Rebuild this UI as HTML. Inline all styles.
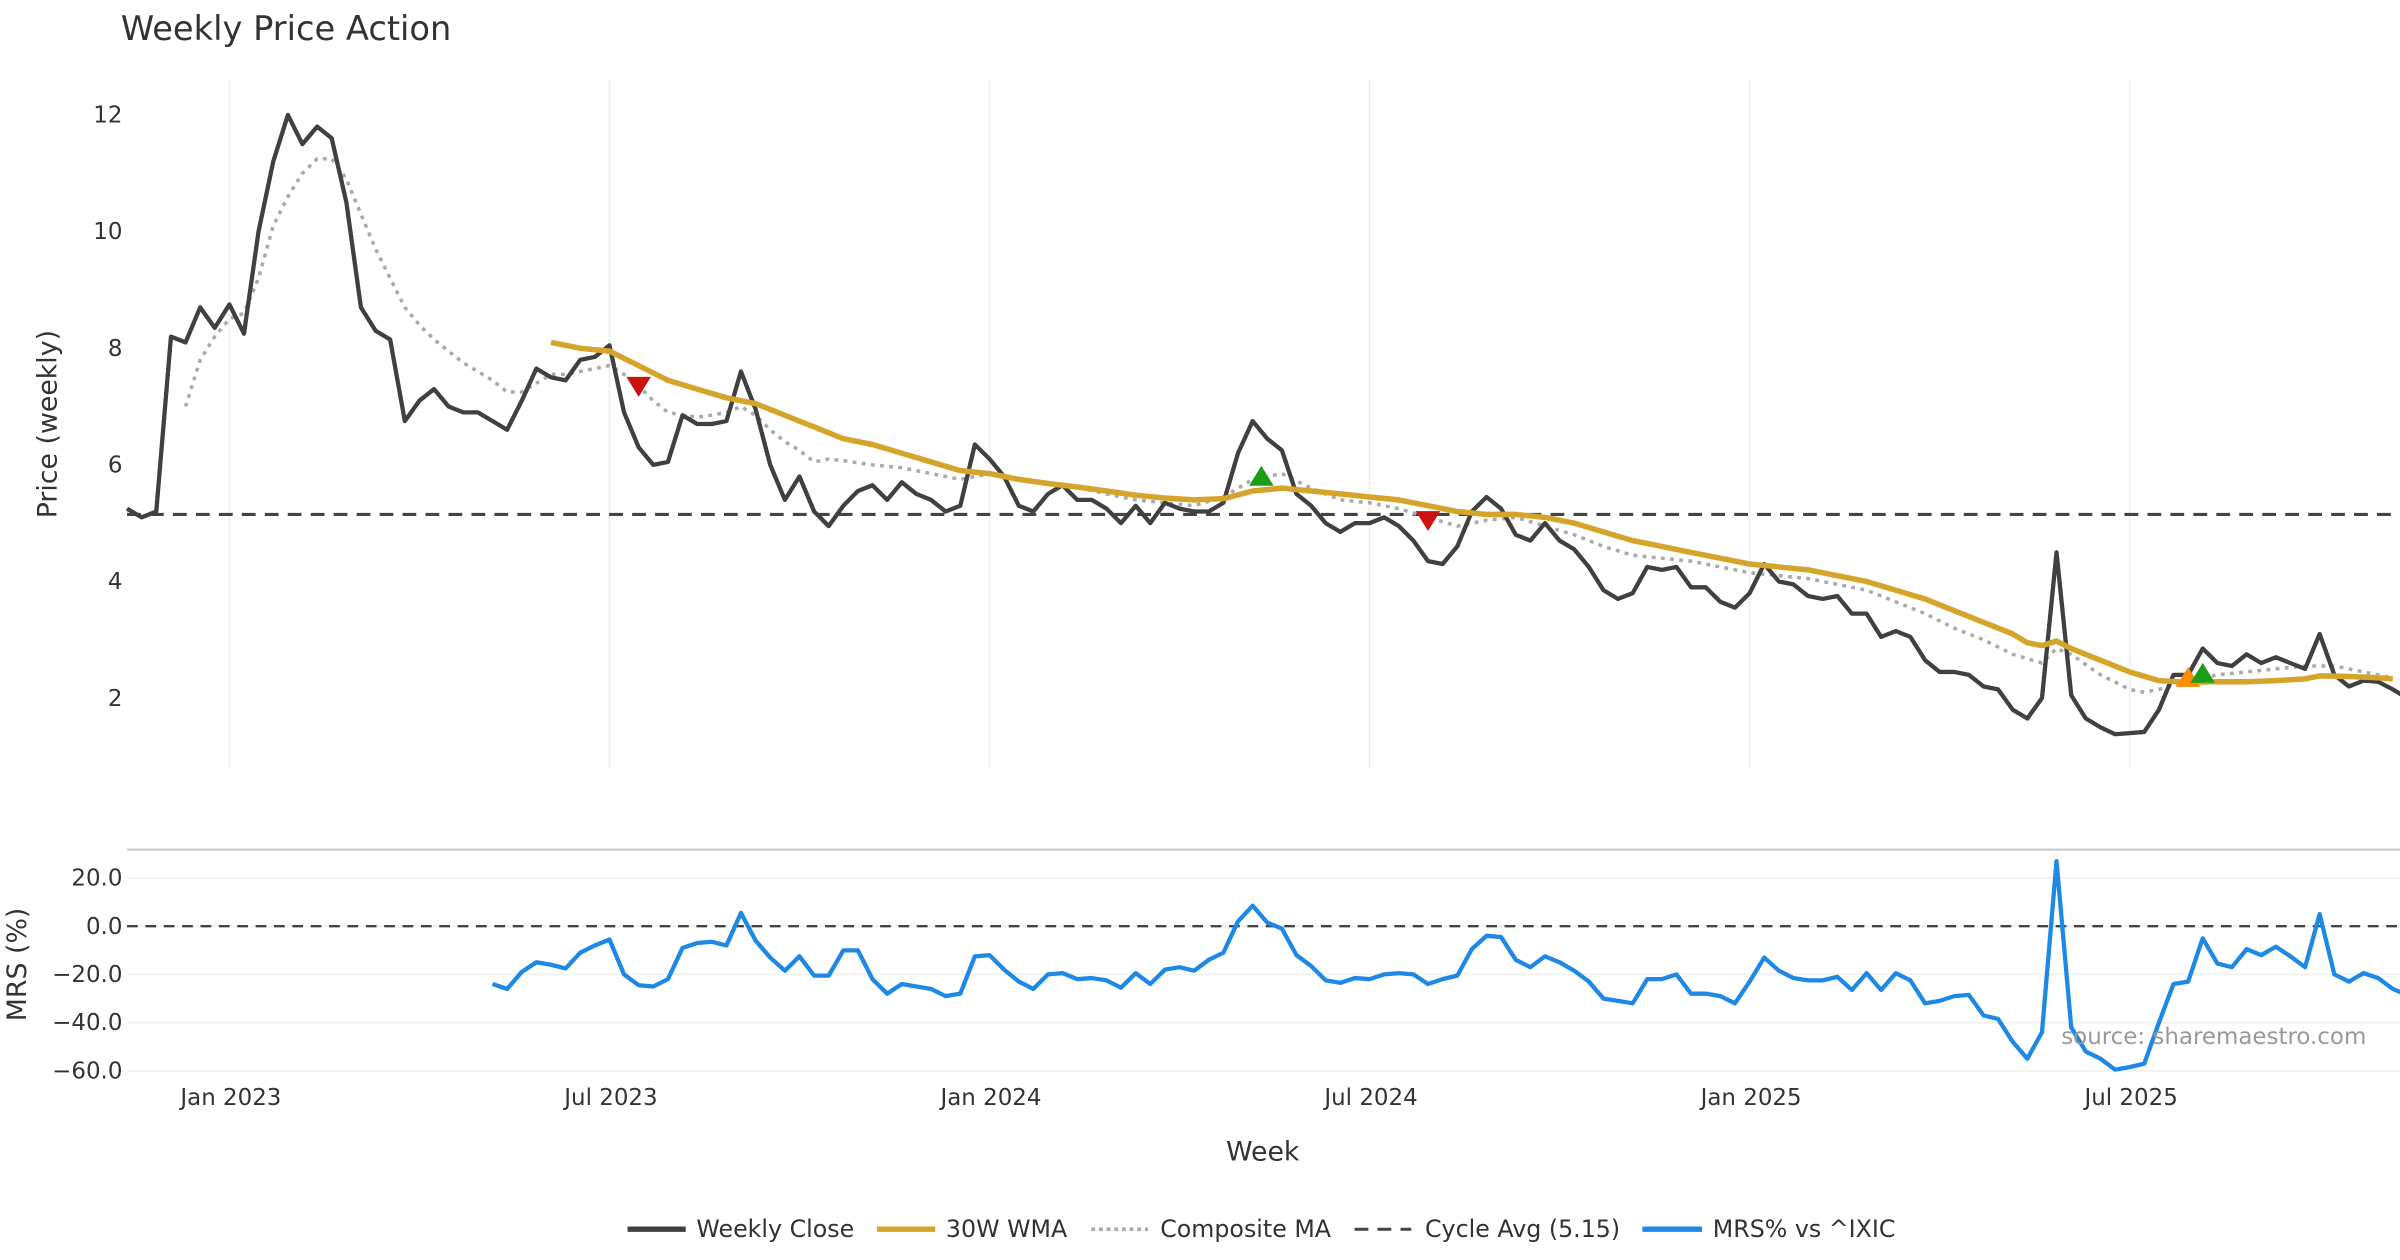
<!DOCTYPE html>
<html><head><meta charset="utf-8"><style>
html,body{margin:0;padding:0;background:#fff;}
svg{display:block;font-family:"DejaVu Sans","Liberation Sans",sans-serif;}
</style></head><body>
<svg id="chart" width="2400" height="1260" viewBox="0 0 1568 823" xmlns="http://www.w3.org/2000/svg">
<text x="79" y="26" font-size="22" fill="#333">Weekly Price Action</text>
<g id="grid"></g>
<g id="price"></g>
<g id="mrs"></g>
<text transform="translate(37,277) rotate(-90)" text-anchor="middle" font-size="17.5" fill="#333">Price (weekly)</text>
<text transform="translate(17,630) rotate(-90)" text-anchor="middle" font-size="17.5" fill="#333">MRS (%)</text>
<text x="825" y="758" text-anchor="middle" font-size="17.5" fill="#333">Week</text>
<text x="1546" y="682" text-anchor="end" font-size="15" fill="#999">source: sharemaestro.com</text>
<g font-size="15.5" fill="#333">
 <g><line x1="410" y1="803" x2="448" y2="803" stroke="#404040" stroke-width="3.5"/><text x="455" y="808">Weekly Close</text></g>
 <g><line x1="573" y1="803" x2="611" y2="803" stroke="#d4a52a" stroke-width="3.5"/><text x="618" y="808">30W WMA</text></g>
 <g><line x1="713" y1="803" x2="750" y2="803" stroke="#aaa" stroke-width="2.5" stroke-dasharray="2.5,2.5"/><text x="758" y="808">Composite MA</text></g>
 <g><line x1="885" y1="803" x2="922" y2="803" stroke="#444" stroke-width="2" stroke-dasharray="9,6"/><text x="931" y="808">Cycle Avg (5.15)</text></g>
 <g><line x1="1073" y1="803" x2="1112" y2="803" stroke="#1e88e5" stroke-width="3.5"/><text x="1119" y="808">MRS% vs ^IXIC</text></g>
</g>
</svg>
<script>
const closeValues=[5.25,5.1,5.2,8.2,8.1,8.7,8.35,8.75,8.25,10.0,11.2,12.0,11.5,11.8,11.6,10.5,8.7,8.3,8.15,6.75,7.1,7.3,7.0,6.9,6.9,6.75,6.6,7.1,7.65,7.5,7.45,7.8,7.85,8.05,6.9,6.3,6.0,6.05,6.85,6.7,6.7,6.75,7.6,6.95,6.0,5.4,5.8,5.2,4.95,5.3,5.55,5.65,5.4,5.7,5.5,5.4,5.2,5.3,6.35,6.1,5.8,5.3,5.2,5.5,5.65,5.4,5.4,5.25,5.0,5.3,5.0,5.35,5.25,5.2,5.2,5.35,6.2,6.75,6.45,6.25,5.5,5.3,5.0,4.85,5.0,5.0,5.1,4.95,4.7,4.35,4.3,4.6,5.2,5.45,5.25,4.8,4.7,5.0,4.7,4.55,4.25,3.85,3.7,3.8,4.25,4.2,4.25,3.9,3.9,3.65,3.55,3.8,4.3,4.0,3.95,3.75,3.7,3.75,3.45,3.45,3.05,3.15,3.05,2.65,2.45,2.45,2.4,2.2,2.15,1.8,1.65,2.0,4.5,2.05,1.65,1.5,1.38,1.4,1.42,1.8,2.4,2.4,2.85,2.6,2.55,2.75,2.6,2.7,2.6,2.5,3.1,2.4,2.2,2.3,2.28,2.15,2.0];
const wmaWeeks=[29,31,33,35,37,39,41,43,45,47,49,51,53,55,57,59,61,63,65,67,69,71,73,75,77,79,81,83,85,87,89,91,93,95,97,99,101,103,105,107,109,111,113,115,117,119,121,123,125,127,129,130,131,132,133,135,137,139,141,143,145,147,149,150,152,154,155];
const wmaValues=[8.1,8.0,7.95,7.7,7.45,7.3,7.15,7.05,6.85,6.65,6.45,6.35,6.2,6.05,5.9,5.85,5.75,5.68,5.62,5.55,5.48,5.43,5.4,5.42,5.55,5.6,5.55,5.5,5.45,5.4,5.3,5.2,5.15,5.15,5.1,5.0,4.85,4.7,4.6,4.5,4.4,4.3,4.25,4.2,4.1,4.0,3.85,3.7,3.5,3.3,3.1,2.95,2.9,2.98,2.85,2.65,2.45,2.3,2.27,2.28,2.28,2.3,2.33,2.38,2.37,2.35,2.33];
const compWeeks=[4,5,6,7,8,9,10,11,12,13,14,15,16,17,18,19,20,21,22,23,24,25,26,27,28,29,30,31,32,33,34,35,36,37,38,39,40,41,42,43,44,45,46,47,48,49,51,53,55,57,59,61,63,65,67,69,71,73,75,77,79,81,83,85,87,89,91,93,95,97,99,101,103,105,107,109,111,113,115,117,119,121,123,125,127,129,131,132,133,135,137,138,139,141,143,145,147,149,151,153,155];
const compValues=[7.0,7.8,8.2,8.5,8.6,9.2,10.1,10.6,11.0,11.25,11.25,10.9,10.3,9.7,9.2,8.7,8.4,8.15,7.95,7.75,7.6,7.45,7.25,7.25,7.4,7.55,7.55,7.6,7.65,7.7,7.55,7.35,7.1,6.9,6.85,6.82,6.85,6.9,7.0,6.85,6.6,6.4,6.25,6.05,6.1,6.07,6.0,5.95,5.85,5.75,5.85,5.75,5.68,5.62,5.5,5.4,5.35,5.3,5.45,5.75,5.85,5.6,5.4,5.35,5.25,5.1,4.95,5.05,5.1,4.95,4.8,4.6,4.45,4.4,4.35,4.25,4.15,4.1,4.05,3.95,3.85,3.65,3.45,3.2,3.0,2.75,2.6,2.85,2.75,2.4,2.15,2.1,2.15,2.3,2.4,2.45,2.5,2.55,2.55,2.45,2.35];
const mrsStart=25;
const mrsValues=[-24,-26,-19,-15,-16,-17.5,-11,-8,-5.5,-20,-24.5,-25,-22,-9,-7,-6.5,-8,5.5,-6,-13,-18.5,-12.5,-20.5,-20.5,-10,-10,-22,-28,-24,-25,-26,-29,-28,-12.5,-12,-18,-23,-26,-20,-19.5,-22,-21.5,-22.5,-25.5,-19.5,-24,-18,-17,-18.5,-14,-11,2,8.5,1.5,-1,-12,-16.5,-22.5,-23.5,-21.5,-22,-20,-19.5,-20,-24,-22,-20.5,-9.5,-4,-4.5,-14,-17,-12.5,-15,-18.5,-23,-30,-31,-32,-22,-22,-20,-28,-28,-29,-32,-23,-13,-18.5,-21.5,-22.5,-22.5,-21,-26.5,-19.5,-26.5,-19.5,-22.5,-32,-31,-29,-28.5,-37,-38.5,-48,-55,-44,27,-42,-52,-55,-59.5,-58.5,-57,-40,-24,-23,-5,-15.5,-17,-9.5,-12,-8.5,-12.5,-17,5,-20,-23,-19.5,-21.5,-26,-28.5];
const cycleAvg=5.15;
const priceTicks=[2,4,6,8,10,12];
const mrsTicks=[20,0,-20,-40,-60];
const mrsTickLabels=["20.0","0.0","\u221220.0","\u221240.0","\u221260.0"];
const dateTickWeeks=[7,33,59,85,111,137];
const dateTickLabels=["Jan 2023","Jul 2023","Jan 2024","Jul 2024","Jan 2025","Jul 2025"];
const signalWeeks=[35,77.6,89,141,142];
const signalValues=[7.35,5.8,5.05,2.35,2.42];
const signalTypes=["sell","buy","sell","warn","buy"];

const NS="http://www.w3.org/2000/svg";
const X=i=>83+i*9.55;
const YP=v=>456-(v-2)*38.1;
const YM=v=>605-v*1.575;
function mk(tag,attrs,parent){const e=document.createElementNS(NS,tag);for(const k in attrs)e.setAttribute(k,attrs[k]);parent.appendChild(e);return e;}
const grid=document.getElementById('grid'),price=document.getElementById('price'),mrs=document.getElementById('mrs');

dateTickWeeks.forEach((w,k)=>{
  const l=mk('line',{x1:X(w),x2:X(w),y1:52,y2:502,stroke:'#eceef0','stroke-width':1},grid);
  
  
  const t=mk('text',{x:X(w)+1,y:722,'text-anchor':'middle','font-size':15,fill:'#333'},grid);
  t.textContent=dateTickLabels[k];
  
  
});
priceTicks.forEach(v=>{
  const t=mk('text',{x:80,y:YP(v)+5,'text-anchor':'end','font-size':15,fill:'#333'},grid);
  t.textContent=v;
  
  
});
mrsTicks.forEach((v,k)=>{
  const l=mk('line',{x1:83,x2:1568,y1:YM(v),y2:YM(v),stroke:'#eef0f2','stroke-width':1},grid);
  
  
  const t=mk('text',{x:80,y:YM(v)+5,'text-anchor':'end','font-size':15,fill:'#333'},grid);
  t.textContent=mrsTickLabels[k];
  
  
});
const sep=mk('line',{x1:83,x2:1568,y1:555,y2:555,stroke:'#ccc','stroke-width':1.5},grid);



function poly(pts,style,parent,name){
  const p=mk('polyline',Object.assign({points:pts.map(q=>q[0].toFixed(1)+','+q[1].toFixed(1)).join(' '),fill:'none','stroke-linejoin':'round'},style),parent);
  
  
}
const cyc=mk('line',{x1:83,x2:1568,y1:YP(cycleAvg),y2:YP(cycleAvg),stroke:'#444','stroke-width':2,'stroke-dasharray':'9,6'},price);


poly(compWeeks.map((w,k)=>[X(w),YP(compValues[k])]),{stroke:'#aaa','stroke-width':2.3,'stroke-dasharray':'2.5,3.5'},price,'composite-ma-line');
poly(closeValues.map((v,i)=>[X(i),YP(v)]),{stroke:'#404040','stroke-width':2.8},price,'weekly-close-line');
poly(wmaWeeks.map((w,k)=>[X(w),YP(wmaValues[k])]),{stroke:'#d4a52a','stroke-width':3.6},price,'wma-30w-line');
signalWeeks.forEach((w,k)=>{
  const x=X(w),y=YP(signalValues[k]),s=8,t=signalTypes[k];
  const pts=t==='sell'?`${x-s},${y-6} ${x+s},${y-6} ${x},${y+7}`:`${x-s},${y+6} ${x+s},${y+6} ${x},${y-7}`;
  const m=mk('polygon',{points:pts,fill:t==='sell'?'#cc1111':(t==='buy'?'#1a9e1a':'#ff8c00')},price);
  
  
});
const zl=mk('line',{x1:83,x2:1568,y1:YM(0),y2:YM(0),stroke:'#444','stroke-width':1.6,'stroke-dasharray':'7,5'},mrs);


poly(mrsValues.map((v,k)=>[X(mrsStart+k),YM(v)]),{stroke:'#1e88e5','stroke-width':2.8},mrs,'mrs-line');
</script>
</body></html>
